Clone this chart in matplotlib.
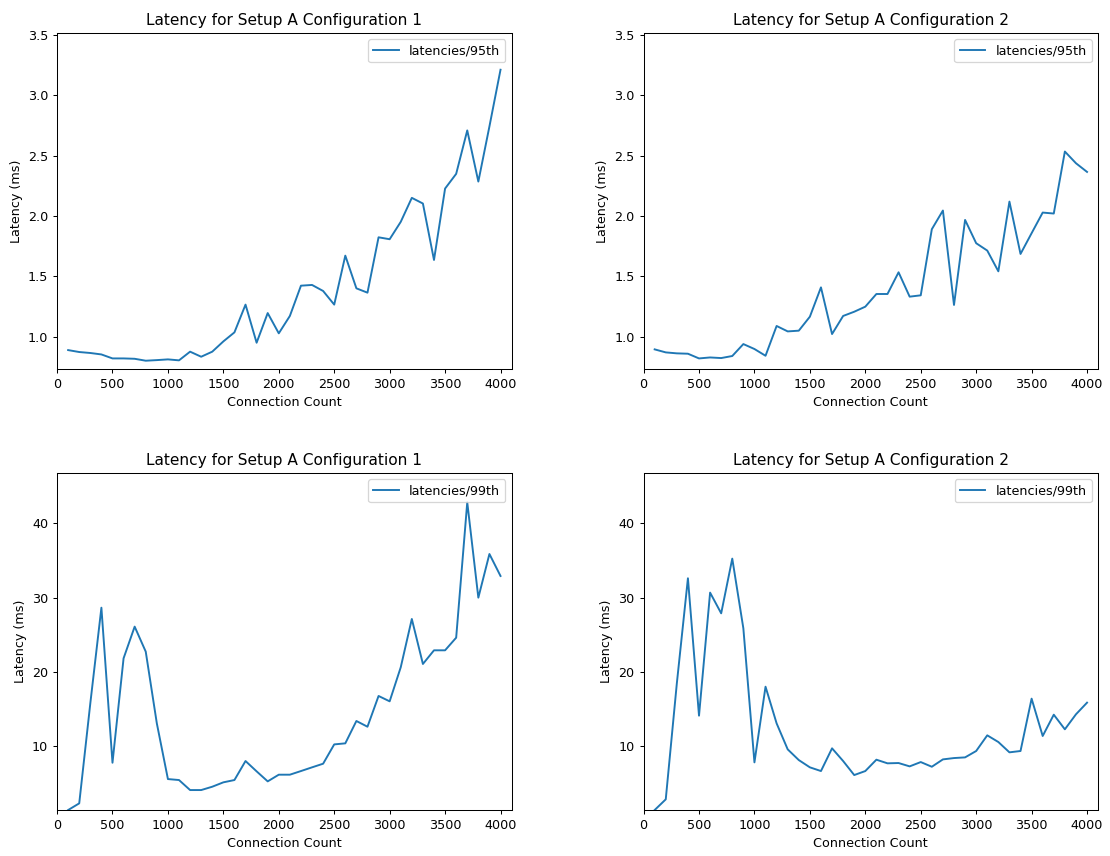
import numpy as np
import matplotlib
matplotlib.use("Agg")
import matplotlib.pyplot as plt

# -------------------------
# DATA
# -------------------------
connections = list(range(100, 4001, 100))

p95_config1 = [0.889, 0.873, 0.865, 0.853, 0.820, 0.820, 0.817, 0.801, 0.806, 0.812,
               0.804, 0.876, 0.834, 0.876, 0.961, 1.036, 1.266, 0.950, 1.196, 1.028,
               1.172, 1.423, 1.429, 1.379, 1.266, 1.672, 1.401, 1.365, 1.824, 1.808,
               1.952, 2.151, 2.104, 1.636, 2.228, 2.350, 2.710, 2.286, 2.743, 3.213]

p95_config2 = [0.895, 0.870, 0.862, 0.859, 0.820, 0.828, 0.823, 0.840, 0.939, 0.898,
               0.842, 1.089, 1.044, 1.050, 1.166, 1.409, 1.022, 1.172, 1.207, 1.249,
               1.354, 1.354, 1.534, 1.332, 1.343, 1.891, 2.046, 1.263, 1.968, 1.775,
               1.714, 1.542, 2.120, 1.686, 1.858, 2.029, 2.021, 2.535, 2.438, 2.366]

p99_config1 = [1.38, 2.28, 15.75, 28.63, 7.75, 21.81, 26.08, 22.71, 13.05, 5.55,
               5.42, 4.07, 4.07, 4.52, 5.11, 5.42, 7.98, 6.59, 5.24, 6.14,
               6.14, 6.63, 7.13, 7.62, 10.22, 10.36, 13.37, 12.60, 16.74, 16.02,
               20.60, 27.11, 21.05, 22.89, 22.89, 24.59, 42.82, 29.98, 35.86, 32.90]

p99_config2 = [1.38, 2.82, 18.44, 32.59, 14.09, 30.66, 27.87, 35.24, 25.85, 7.80,
               17.99, 13.05, 9.55, 8.11, 7.13, 6.63, 9.69, 7.98, 6.09, 6.63,
               8.16, 7.67, 7.71, 7.26, 7.84, 7.21, 8.20, 8.38, 8.47, 9.33,
               11.44, 10.54, 9.15, 9.33, 16.38, 11.35, 14.22, 12.25, 14.27, 15.84]

titles = ["Latency for Setup A Configuration 1", "Latency for Setup A Configuration 2"]

# -------------------------
# PLOT
# -------------------------
# rendered at 92 dpi so text and lines come out a bit smaller, like the original
fig = plt.figure(figsize=(1110 / 92, 856 / 92), dpi=92)

positions = {
    (0, 0): [0.0514, 0.5686, 0.4095, 0.3932],
    (0, 1): [0.5798, 0.5686, 0.4095, 0.3932],
    (1, 0): [0.0514, 0.0537, 0.4095, 0.3940],
    (1, 1): [0.5798, 0.0537, 0.4095, 0.3940],
}

panels = [
    ((0, 0), p95_config1, "latencies/95th", titles[0], (0.73, 3.52)),
    ((0, 1), p95_config2, "latencies/95th", titles[1], (0.73, 3.52)),
    ((1, 0), p99_config1, "latencies/99th", titles[0], (1.38, 46.8)),
    ((1, 1), p99_config2, "latencies/99th", titles[1], (1.38, 46.8)),
]

for key, values, label, title, ylim in panels:
    ax = fig.add_axes(positions[key])
    ax.plot(connections, values, color="#1f77b4", label=label)
    ax.set_xlim(0, 4100)
    ax.set_ylim(*ylim)
    ax.set_xticks([0, 500, 1000, 1500, 2000, 2500, 3000, 3500, 4000])
    if key[0] == 0:
        ax.set_yticks([1.0, 1.5, 2.0, 2.5, 3.0, 3.5])
    else:
        ax.set_yticks([10, 20, 30, 40])
    ax.set_title(title)
    ax.set_xlabel("Connection Count")
    ax.set_ylabel("Latency (ms)")
    ax.legend(loc="upper right")

plt.savefig("out.png", dpi=92)
